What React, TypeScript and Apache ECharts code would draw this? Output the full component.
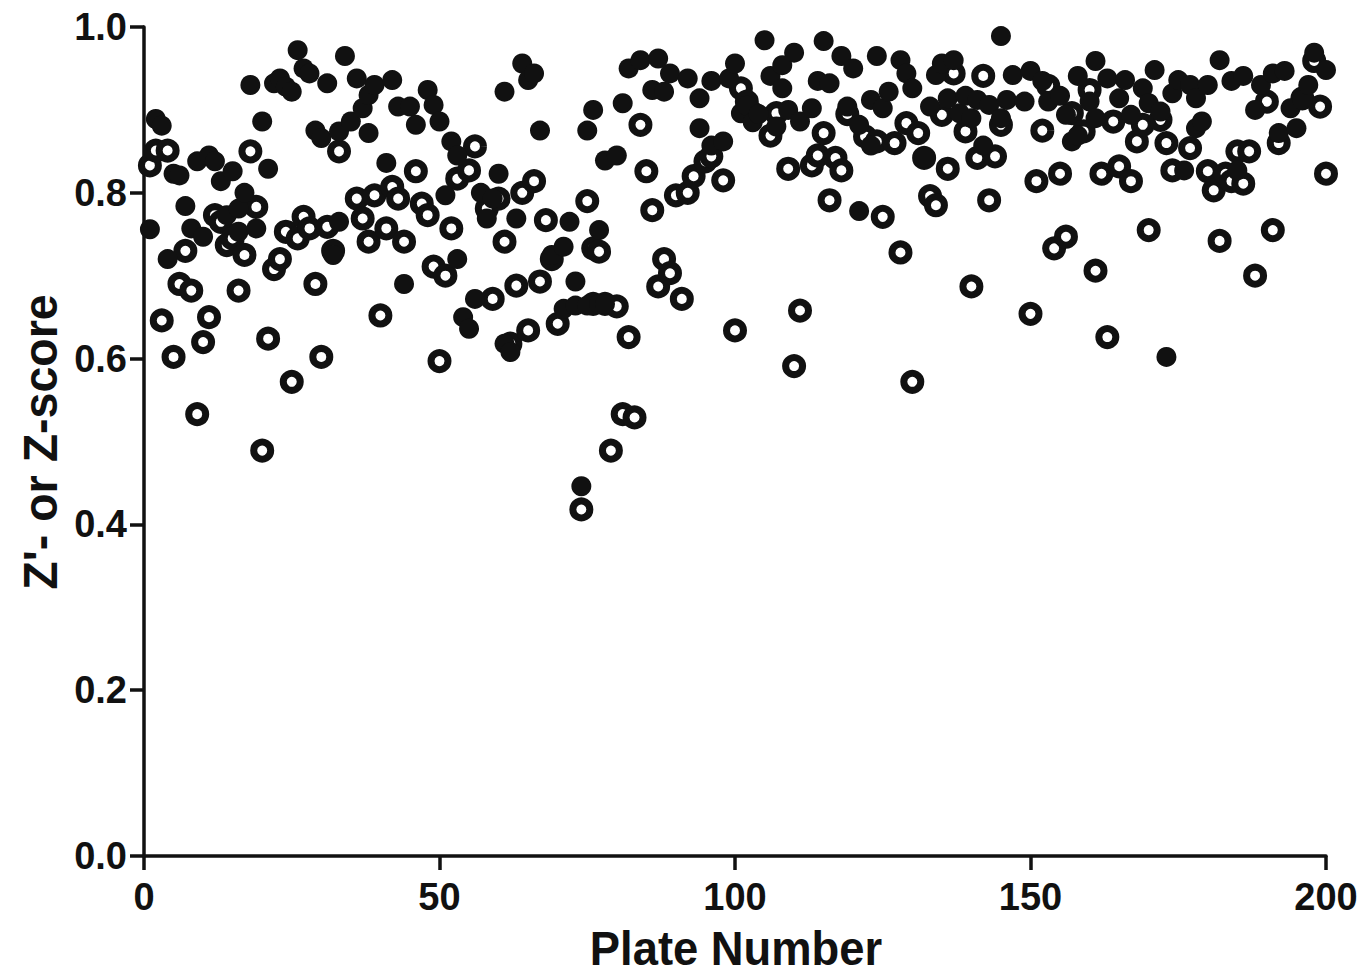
import React, { useEffect, useRef } from "react";
import * as echarts from "echarts";

// Z' factor per plate (filled circles)
const zPrime: [number, number][] = [
  [1,0.756],[2,0.889],[3,0.881],[4,0.720],[5,0.823],[6,0.821],[7,0.784],[8,0.757],[9,0.838],[10,0.747],
  [11,0.845],[12,0.838],[13,0.814],[14,0.773],[15,0.826],[16,0.781],[16,0.753],[17,0.800],[18,0.930],[19,0.757],[20,0.886],
  [21,0.829],[22,0.932],[23,0.938],[24,0.928],[25,0.922],[26,0.972],[27,0.950],[28,0.944],[29,0.875],[30,0.866],
  [31,0.932],[32,0.725],[33,0.765],[33,0.874],[34,0.965],[35,0.886],[36,0.938],[37,0.902],[38,0.918],[38,0.872],
  [39,0.930],[41,0.836],[42,0.936],[43,0.904],[44,0.690],[45,0.904],[46,0.882],[48,0.924],[49,0.906],[50,0.886],
  [51,0.797],[52,0.862],[53,0.845],[53,0.720],[54,0.650],[55,0.636],[56,0.672],[57,0.800],[58,0.769],[59,0.793],
  [60,0.823],[61,0.922],[61,0.618],[62,0.608],[63,0.769],[64,0.956],[65,0.936],[66,0.944],[67,0.875],[69,0.725],
  [71,0.735],[71,0.660],[72,0.765],[73,0.664],[73,0.693],[74,0.446],[75,0.664],[75,0.875],[76,0.900],[77,0.755],
  [77,0.666],[78,0.839],[78,0.666],[80,0.845],[81,0.908],[82,0.950],[84,0.960],[86,0.924],[87,0.962],[88,0.922],
  [89,0.944],[92,0.938],[94,0.914],[94,0.878],[96,0.935],[96,0.857],[98,0.862],[99,0.938],[100,0.956],[101,0.896],
  [102,0.905],[103,0.885],[104,0.895],[105,0.984],[106,0.941],[107,0.880],[108,0.954],[108,0.926],[109,0.900],[110,0.969],
  [111,0.886],[113,0.902],[114,0.935],[115,0.983],[116,0.932],[118,0.965],[119,0.904],[120,0.950],[121,0.882],[121,0.778],
  [123,0.912],[123,0.857],[124,0.965],[125,0.902],[126,0.922],[128,0.960],[129,0.944],[130,0.926],[132,0.842],[133,0.904],
  [134,0.942],[135,0.956],[136,0.914],[137,0.960],[138,0.896],[139,0.917],[140,0.890],[141,0.912],[142,0.857],[143,0.906],
  [145,0.989],[145,0.890],[146,0.912],[147,0.942],[149,0.910],[150,0.947],[152,0.935],[153,0.910],[155,0.917],[156,0.894],
  [157,0.862],[158,0.941],[158,0.869],[160,0.910],[161,0.959],[161,0.890],[163,0.938],[165,0.914],[166,0.936],[167,0.894],
  [169,0.926],[170,0.908],[171,0.948],[172,0.898],[173,0.602],[174,0.920],[175,0.936],[176,0.827],[177,0.930],[178,0.914],
  [178,0.878],[179,0.886],[180,0.930],[182,0.960],[184,0.935],[185,0.827],[186,0.941],[188,0.900],[189,0.930],[191,0.944],
  [192,0.872],[193,0.947],[194,0.902],[195,0.878],[196,0.912],[197,0.930],[198,0.969],[200,0.948],
];

// Z-score per plate (open circles)
const zScore: [number, number][] = [
  [1,0.833],[2,0.851],[3,0.646],[4,0.851],[5,0.602],[6,0.690],[7,0.730],[8,0.682],[9,0.533],[10,0.620],
  [11,0.650],[12,0.773],[13,0.765],[14,0.737],[15,0.745],[16,0.682],[17,0.725],[18,0.850],[19,0.783],[20,0.489],
  [21,0.624],[22,0.708],[23,0.720],[24,0.753],[25,0.572],[26,0.745],[27,0.771],[28,0.757],[29,0.690],[30,0.602],
  [31,0.759],[32,0.730],[33,0.850],[36,0.793],[37,0.769],[38,0.741],[39,0.797],[40,0.652],[41,0.757],[42,0.807],
  [43,0.793],[44,0.741],[46,0.826],[47,0.787],[48,0.773],[49,0.711],[50,0.597],[51,0.700],[52,0.757],[53,0.817],
  [55,0.827],[56,0.856],[58,0.781],[59,0.672],[60,0.793],[61,0.741],[62,0.618],[63,0.688],[64,0.800],[65,0.634],
  [66,0.814],[67,0.693],[68,0.767],[69,0.720],[70,0.642],[74,0.418],[75,0.790],[76,0.733],[76,0.666],[77,0.729],
  [78,0.666],[79,0.489],[80,0.663],[81,0.533],[82,0.626],[83,0.529],[84,0.882],[85,0.826],[86,0.779],[87,0.687],
  [88,0.720],[89,0.703],[90,0.797],[91,0.672],[92,0.800],[93,0.820],[95,0.838],[96,0.844],[98,0.815],[100,0.634],
  [101,0.926],[102,0.910],[103,0.896],[106,0.869],[107,0.896],[109,0.829],[110,0.591],[111,0.658],[113,0.833],[114,0.845],
  [115,0.872],[116,0.791],[117,0.842],[118,0.827],[119,0.895],[122,0.868],[124,0.862],[125,0.771],[127,0.860],[128,0.728],
  [129,0.884],[130,0.572],[131,0.872],[132,0.842],[133,0.796],[134,0.785],[135,0.894],[136,0.829],[137,0.944],[139,0.874],
  [140,0.687],[141,0.842],[142,0.941],[143,0.791],[144,0.844],[145,0.882],[150,0.654],[151,0.814],[152,0.875],[153,0.929],
  [154,0.733],[155,0.823],[156,0.747],[157,0.896],[159,0.874],[160,0.924],[161,0.706],[162,0.823],[163,0.626],[164,0.886],
  [165,0.832],[167,0.814],[168,0.862],[169,0.882],[170,0.755],[172,0.888],[173,0.860],[174,0.827],[177,0.854],[180,0.826],
  [181,0.803],[182,0.742],[183,0.823],[184,0.814],[185,0.850],[186,0.811],[187,0.850],[188,0.700],[190,0.910],[191,0.755],
  [192,0.860],[196,0.914],[198,0.959],[199,0.904],[200,0.823],
];

const xTitle = "Plate Number";
const yTitle = "Z'- or Z-score";

const INK = "#111111";
const FONT = "'Liberation Sans', Arial, Helvetica, sans-serif";

export default function App() {
  const ref = useRef<HTMLDivElement>(null);

  useEffect(() => {
    if (!ref.current) return;
    const chart = echarts.init(ref.current, undefined, { renderer: "svg" });
    const axisCommon = {
      axisLine: { show: true, lineStyle: { color: INK, width: 3.5 } },
      axisTick: { show: true, inside: false, length: 14, lineStyle: { color: INK, width: 3.5 } },
      splitLine: { show: false },
    };
    const titleStyle = {
      fontFamily: FONT,
      fontWeight: "bold",
      fontSize: 48,
      fill: INK,
      align: "center",
      verticalAlign: "middle",
      textAlign: "center",
      textVerticalAlign: "middle",
    };
    chart.setOption({
      animation: false,
      backgroundColor: "#ffffff",
      grid: { left: 144, right: 37, top: 27, bottom: 123, containLabel: false },
      xAxis: {
        type: "value",
        min: 0,
        max: 200,
        interval: 50,
        ...axisCommon,
        axisLabel: { fontFamily: FONT, fontWeight: "bold", fontSize: 38, color: INK, margin: 22 },
      },
      yAxis: {
        type: "value",
        min: 0,
        max: 1,
        interval: 0.2,
        ...axisCommon,
        axisLabel: {
          fontFamily: FONT,
          fontWeight: "bold",
          fontSize: 38,
          color: INK,
          margin: 17,
          formatter: (v: number) => v.toFixed(1),
        },
      },
      graphic: [
        {
          type: "text",
          x: 736,
          y: 949,
          scaleX: 0.945,
          style: { ...titleStyle, text: xTitle },
        },
        {
          type: "text",
          x: 40,
          y: 442,
          rotation: Math.PI / 2,
          scaleX: 0.97,
          style: { ...titleStyle, text: yTitle },
        },
      ],
      series: [
        {
          type: "scatter",
          name: "Z-score",
          data: zScore,
          symbol: "circle",
          symbolSize: 17,
          itemStyle: { color: "#ffffff", borderColor: INK, borderWidth: 7, opacity: 1 },
          z: 2,
        },
        {
          type: "scatter",
          name: "Z'",
          data: zPrime,
          symbol: "circle",
          symbolSize: 20,
          itemStyle: { color: INK, opacity: 1 },
          z: 3,
        },
      ],
    });
    return () => chart.dispose();
  }, []);

  return <div ref={ref} style={{ width: 1363, height: 979, position: "absolute", left: 0, top: 0 }} />;
}
